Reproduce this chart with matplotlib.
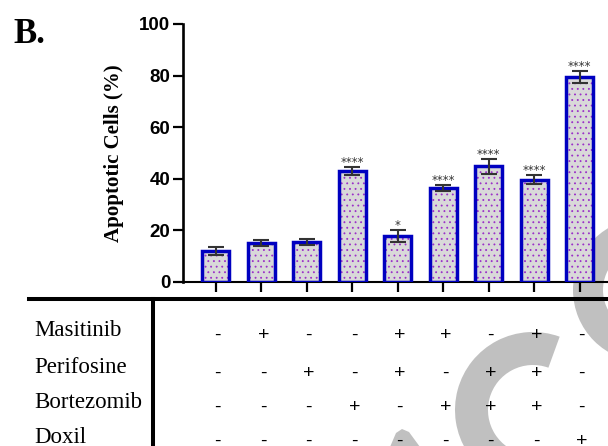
import matplotlib
matplotlib.use("Agg")
import matplotlib.pyplot as plt
import numpy as np
from matplotlib.transforms import Affine2D, blended_transform_factory, ScaledTranslation
from matplotlib.patches import Wedge, Polygon
from matplotlib.lines import Line2D

# ---------------- data ----------------
values = [12.0, 15.0, 15.5, 43.0, 17.8, 36.3, 44.8, 39.6, 79.5]
errors = [1.4, 1.2, 1.3, 1.6, 2.3, 1.2, 3.0, 1.8, 2.3]
stars = ["", "", "", "****", "*", "****", "****", "****", "****"]
drugs = ["Masitinib", "Perifosine", "Bortezomib", "Doxil"]
masitinib = ["-", "+", "-", "-", "+", "+", "-", "+", "-"]
perifosine = ["-", "-", "+", "-", "+", "-", "+", "+", "-"]
bortezomib = ["-", "-", "-", "+", "-", "+", "+", "+", "-"]
doxil = ["-", "-", "-", "-", "-", "-", "-", "-", "+"]
yticks = [0, 20, 40, 60, 80, 100]
ylabel = "Apoptotic Cells (%)"
panel = "B."

W, H = 608, 446
plt.rcParams["hatch.linewidth"] = 0.6
fig = plt.figure(figsize=(W / 100, H / 100), dpi=100)
fig.patch.set_facecolor("white")
# pixel coordinates, origin top-left
px = Affine2D().scale(0.01, -0.01).translate(0, H / 100) + fig.dpi_scale_trans

# ---------------- watermark shapes (background) ----------------
wm = "#c0c0c0"
fig.add_artist(Wedge((533, 410), 78, 100, 290, width=33, transform=px,
                     color=wm, zorder=-2, lw=0))
fig.add_artist(Wedge((645, 290), 72, 0, 360, width=30, transform=px,
                     color=wm, zorder=-2, lw=0))
fig.add_artist(Polygon([(390, 447), (396, 433), (402, 429), (409, 432), (420, 447)],
                       closed=True, transform=px, color=wm, zorder=-2, lw=0))

# ---------------- bar chart ----------------
ax = fig.add_axes([183 / W, (H - 282) / H, (W - 183) / W, (282 - 24) / H])
ax.set_facecolor("none")
x = np.arange(len(values))
ax.bar(x, values, width=0.6, color="#d9d9d9", edgecolor="#9b30c8",
       hatch="...", linewidth=0, zorder=2)
ax.bar(x, values, width=0.6, color="none", edgecolor="#0000c0",
       linewidth=2.5, zorder=3)
ax.errorbar(x, values, yerr=errors, fmt="none", ecolor="#333333",
            elinewidth=1.5, capsize=5.5, capthick=1.5, zorder=4)
for xi, v, e, s in zip(x, values, errors, stars):
    if s:
        ax.annotate(s, (xi, v + e), xytext=(0, 0.6), textcoords="offset points",
                    ha="center", va="baseline", fontsize=8.5, color="#333333",
                    family="DejaVu Sans", zorder=5)

ax.set_ylim(0, 100)
ax.set_xlim(-0.72, 8.62)
ax.set_yticks(yticks)
ax.set_xticks(x)
ax.set_xticklabels([""] * len(x))
for sp in ("top", "right"):
    ax.spines[sp].set_visible(False)
ax.spines["left"].set_linewidth(1.9)
ax.spines["bottom"].set_linewidth(1.5)
ax.tick_params(axis="y", length=7, width=1.6, pad=2, labelsize=13.5)
ax.tick_params(axis="x", length=7.5, width=1.6)
for lab in ax.get_yticklabels():
    lab.set_fontfamily("Liberation Sans")
    lab.set_fontweight("bold")

# axis label and panel letter
fig.text(114, 153, ylabel, transform=px, rotation=90, ha="center", va="center",
         fontsize=15, fontweight="bold", family="Liberation Serif")
fig.text(13, 43, panel, transform=px, ha="left", va="baseline",
         fontsize=25, fontweight="bold", family="Liberation Serif")

# ---------------- treatment table ----------------
fig.add_artist(Line2D([29, 608], [299, 299], transform=px, lw=2.9, color="black"))
fig.add_artist(Line2D([153, 153], [299, 447], transform=px, lw=2.9, color="black"))

label_base = [336, 373, 408, 443]
sign_base = [340, 378, 412, 446]
rows = [masitinib, perifosine, bortezomib, doxil]
trans = blended_transform_factory(ax.transData, px) + ScaledTranslation(0.02, 0, fig.dpi_scale_trans)
for name, lb, sb, row in zip(drugs, label_base, sign_base, rows):
    fig.text(34, lb, name, transform=px, ha="left", va="baseline",
             fontsize=16.5, family="Liberation Serif")
    for xi, sgn in zip(x, row):
        fig.text(xi, sb, sgn, transform=trans, ha="center", va="baseline",
                 fontsize=14, family="Liberation Sans")

fig.savefig("out.png", dpi=100)
